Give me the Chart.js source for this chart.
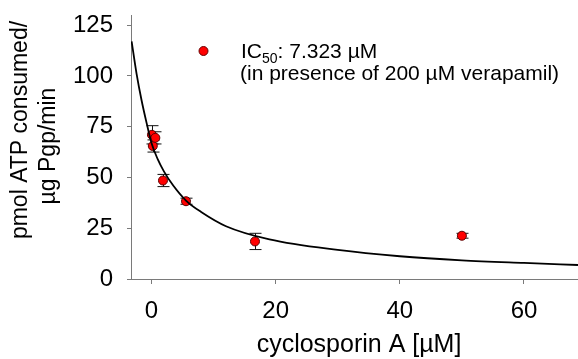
<!DOCTYPE html>
<html>
<head>
<meta charset="utf-8">
<script src="https://cdn.jsdelivr.net/npm/chart.js@4"></script>
<style>
  html, body { margin: 0; padding: 0; background: #fff; }
  #wrap { width: 578px; height: 359px; }
</style>
</head>
<body>
<div id="wrap"><canvas id="chart" width="578" height="359"></canvas></div>
<script>
// measured points (cyclosporin A concentration, uM)
const concX = [0.07, 0.21, 0.62, 1.85, 5.56, 16.67, 50];
const atpMean = [71, 65.5, 69.5, 48.5, 38.3, 18.5, 21.3];
const atpErr = [4.5, 3, 3, 3, 1.5, 4, 1.2];

// fitted curve
const curveX = [-3.2, -2.4, -1.6, -0.8, 0, 1, 2, 3.5, 5.6, 8, 12, 19, 30, 40, 50, 60, 68.7];
const curveY = [117, 101, 88, 77, 67, 59, 53, 46, 38.5, 33, 26, 19.5, 14.3, 11.2, 9.2, 7.9, 6.9];

const xTicks = [0, 20, 40, 60];
const yTicks = [0, 25, 50, 75, 100, 125];

const FONT = '"Liberation Sans", Arial, sans-serif';
const axisGray = '#7a7a7a';

const errorBars = {
    id: 'errorBars',
    beforeDatasetsDraw(chart) {
        const { ctx, scales: { x, y } } = chart;
        ctx.save();
        ctx.strokeStyle = '#111';
        ctx.lineWidth = 1;
        concX.forEach((cx, i) => {
            const px = Math.round(x.getPixelForValue(cx)) + 0.5;
            const top = y.getPixelForValue(atpMean[i] + atpErr[i]);
            const bot = y.getPixelForValue(atpMean[i] - atpErr[i]);
            ctx.beginPath();
            ctx.moveTo(px, top); ctx.lineTo(px, bot);
            ctx.moveTo(px - 6, top); ctx.lineTo(px + 6, top);
            ctx.moveTo(px - 6, bot); ctx.lineTo(px + 6, bot);
            ctx.stroke();
        });
        ctx.restore();
    }
};

const labels = {
    id: 'labels',
    afterDraw(chart) {
        const ctx = chart.ctx;
        ctx.save();
        ctx.fillStyle = '#000';

        // y title, two lines
        ctx.font = '23px ' + FONT;
        ctx.textAlign = 'center';
        ctx.textBaseline = 'alphabetic';
        ctx.save();
        ctx.translate(27, 130);
        ctx.rotate(-Math.PI / 2);
        ctx.fillText('pmol ATP consumed/', 0, 0);
        ctx.restore();
        ctx.save();
        ctx.translate(55, 146);
        ctx.rotate(-Math.PI / 2);
        ctx.fillText('µg Pgp/min', 0, 0);
        ctx.restore();

        // x title
        ctx.font = '25px ' + FONT;
        ctx.fillText('cyclosporin A [µM]', 359, 352);

        // legend
        ctx.beginPath();
        ctx.arc(203.5, 51, 4.5, 0, Math.PI * 2);
        ctx.fillStyle = '#ff0000';
        ctx.fill();
        ctx.lineWidth = 1;
        ctx.strokeStyle = '#600';
        ctx.stroke();

        ctx.fillStyle = '#000';
        ctx.textAlign = 'left';
        ctx.font = '21px ' + FONT;
        let tx = 241;
        ctx.fillText('IC', tx, 58);
        tx += ctx.measureText('IC').width;
        ctx.font = '14px ' + FONT;
        ctx.fillText('50', tx, 63);
        tx += ctx.measureText('50').width;
        ctx.font = '21px ' + FONT;
        ctx.fillText(': 7.323 µM', tx, 58);
        ctx.fillText('(in presence of 200 µM verapamil)', 240, 80);
        ctx.restore();
    }
};

new Chart(document.getElementById('chart'), {
    type: 'scatter',
    data: {
        datasets: [{
            label: 'fit',
            data: curveX.map((v, i) => ({ x: v, y: curveY[i] })),
            showLine: true,
            cubicInterpolationMode: 'monotone',
            borderColor: '#000',
            borderWidth: 1.8,
            pointRadius: 0,
            fill: false
        }, {
            label: 'ATPase',
            data: concX.map((v, i) => ({ x: v, y: atpMean[i] })),
            backgroundColor: '#ff0000',
            borderColor: '#5a0000',
            borderWidth: 1,
            pointRadius: 4.5
        }]
    },
    options: {
        responsive: false,
        animation: false,
        layout: { autoPadding: false, padding: { top: 15, right: 0, left: 0, bottom: 0 } },
        plugins: {
            legend: { display: false },
            tooltip: { enabled: false }
        },
        scales: {
            x: {
                type: 'linear',
                min: -3.3,
                max: 68.7,
                afterBuildTicks: (s) => { s.ticks = xTicks.map(v => ({ value: v })); },
                afterFit: (s) => { s.height = 80; s.paddingLeft = 0; s.paddingRight = 0; },
                grid: { drawOnChartArea: false, color: axisGray, tickLength: 5 },
                border: { color: axisGray, width: 1 },
                ticks: { color: '#000', padding: 13, maxRotation: 0, font: { family: FONT, size: 24 } }
            },
            y: {
                min: 0,
                max: 130,
                afterBuildTicks: (s) => { s.ticks = yTicks.map(v => ({ value: v })); },
                afterFit: (s) => { s.width = 131; s.paddingTop = 0; s.paddingBottom = 0; },
                grid: { drawOnChartArea: false, color: axisGray, tickLength: 4 },
                border: { color: axisGray, width: 1 },
                ticks: { color: '#000', padding: 14, font: { family: FONT, size: 24 } }
            }
        }
    },
    plugins: [errorBars, labels]
});
</script>
</body>
</html>
